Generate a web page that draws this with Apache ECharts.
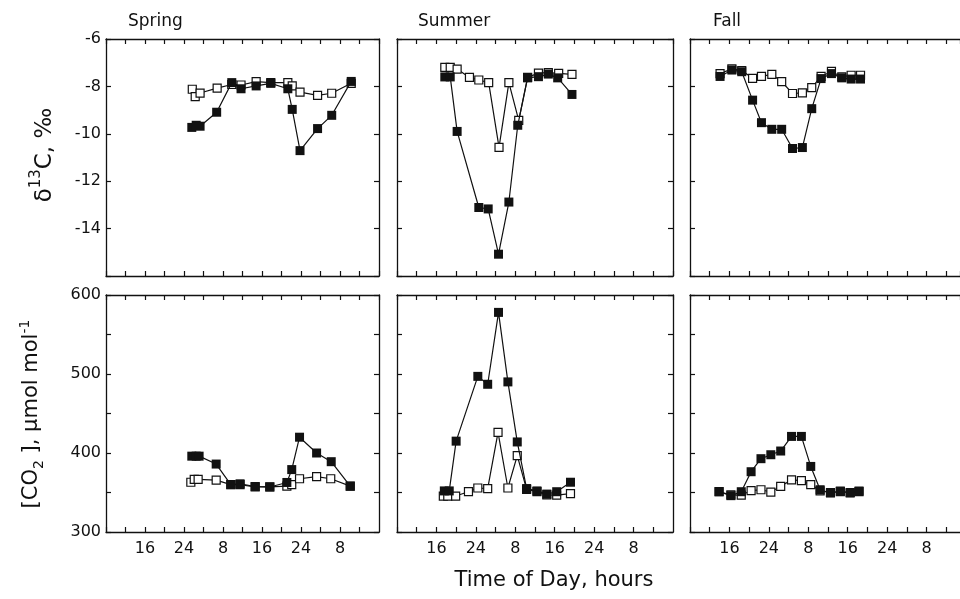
<!DOCTYPE html>
<html>
<head>
<meta charset="utf-8">
<script src="https://cdn.jsdelivr.net/npm/echarts@6/dist/echarts.min.js"></script>
<style>
html,body{margin:0;padding:0;background:#fff;}
#chart{width:960px;height:599px;}
</style>
</head>
<body>
<div id="chart"></div>
<script>
// ---- Data (hours of day on a continuous clock: 24 = midnight, 32 = 8 h next day) ----
const seasons = ["Spring", "Summer", "Fall"];
const xTickHours = [16, 24, 32, 40, 48, 56];
const xTickLabels = ["16", "24", "8", "16", "24", "8"];
const d13cTicks = [-6, -8, -10, -12, -14];
const co2Ticks = [600, 500, 400, 300];

// Spring δ13C
const springD13cHoursFilled = [25.6, 26.5, 27.3, 30.7, 33.8, 35.7, 38.8, 41.8, 45.3, 46.2, 47.8, 51.4, 54.3, 58.3];
const springD13cFilled = [-9.73, -9.64, -9.68, -9.09, -7.84, -8.10, -7.98, -7.87, -8.10, -8.97, -10.71, -9.78, -9.22, -7.79];
const springD13cHoursOpen = [25.7, 26.3, 27.3, 30.8, 33.8, 35.7, 38.8, 41.8, 45.3, 46.2, 47.8, 51.4, 54.3, 58.3];
const springD13cOpen = [-8.12, -8.43, -8.28, -8.07, -7.92, -7.94, -7.80, -7.84, -7.84, -7.98, -8.24, -8.38, -8.29, -7.87];
// Spring CO2
const springCo2HoursFilled = [25.6, 26.5, 27.1, 30.6, 33.6, 35.5, 38.6, 41.6, 45.1, 46.1, 47.7, 51.2, 54.2, 58.1];
const springCo2Filled = [396, 396, 396, 386, 360, 361, 357.6, 357, 362.7, 379, 420, 400, 389, 358];
const springCo2HoursOpen = [25.4, 26.1, 26.9, 30.6, 33.6, 35.5, 38.6, 41.6, 45.1, 46.1, 47.7, 51.2, 54.1, 58.1];
const springCo2Open = [363, 366.5, 366.5, 365.7, 360, 360, 357, 357, 358, 360, 367.4, 370, 367.4, 358];

// Summer δ13C
const summerD13cHoursFilled = [17.7, 18.8, 20.2, 24.6, 26.5, 28.6, 30.7, 32.5, 34.5, 36.7, 38.7, 40.6, 43.5];
const summerD13cFilled = [-7.60, -7.60, -9.90, -13.11, -13.17, -15.08, -12.88, -9.64, -7.64, -7.59, -7.48, -7.64, -8.34];
const summerD13cHoursOpen = [17.7, 18.8, 20.2, 22.7, 24.6, 26.6, 28.7, 30.7, 32.7, 34.5, 36.7, 38.7, 40.8, 43.5];
const summerD13cOpen = [-7.20, -7.20, -7.27, -7.62, -7.73, -7.84, -10.57, -7.84, -9.43, -7.62, -7.44, -7.42, -7.45, -7.49];
// Summer CO2
const summerCo2HoursFilled = [17.6, 18.6, 20.0, 24.4, 26.4, 28.6, 30.5, 32.4, 34.3, 36.4, 38.4, 40.4, 43.2];
const summerCo2Filled = [352, 352, 415, 497, 487, 578, 490, 414, 355, 352, 348, 351, 363];
const summerCo2HoursOpen = [17.4, 18.3, 19.9, 22.5, 24.4, 26.4, 28.5, 30.5, 32.4, 34.3, 36.4, 38.4, 40.4, 43.2];
const summerCo2Open = [345.5, 345.5, 345.5, 351, 355.7, 354.8, 426, 355.7, 396.6, 354, 351, 347, 346.8, 348.5];

// Fall δ13C
const fallD13cHours = [14.1, 16.5, 18.5, 20.7, 22.5, 24.6, 26.6, 28.8, 30.8, 32.7, 34.6, 36.7, 38.8, 40.7, 42.6];
const fallD13cFilled = [-7.58, -7.31, -7.38, -8.58, -9.53, -9.81, -9.81, -10.62, -10.58, -8.94, -7.67, -7.46, -7.64, -7.69, -7.69];
const fallD13cOpen = [-7.46, -7.26, -7.33, -7.66, -7.58, -7.49, -7.80, -8.30, -8.27, -8.05, -7.58, -7.37, -7.60, -7.53, -7.53];
// Fall CO2
const fallCo2Hours = [13.9, 16.3, 18.4, 20.4, 22.4, 24.4, 26.4, 28.6, 30.6, 32.5, 34.4, 36.5, 38.5, 40.5, 42.3];
const fallCo2Filled = [351, 346, 351, 376.3, 392.8, 397.8, 402.5, 421, 421, 383, 353.5, 349.3, 351.9, 349.3, 351.9];
const fallCo2Open = [351, 347, 346.8, 352.3, 353.5, 350.6, 357.8, 366, 365, 360, 352, 350, 351, 350, 351];

// ---- Layout ----
const FONT = '"DejaVu Sans", sans-serif';
const X_MIN = 8, X_MAX = 64;
const colLeft = [106, 397, 690];
const colFullWidth = [273, 276, 276];           // full box width (Fall box runs past the page edge)
const pageWidth = 960;
const rowTop = [39, 295];
const rowHeight = [237, 237];

const panelSeries = [
  [ [springD13cHoursFilled, springD13cFilled, springD13cHoursOpen, springD13cOpen],
    [summerD13cHoursFilled, summerD13cFilled, summerD13cHoursOpen, summerD13cOpen],
    [fallD13cHours, fallD13cFilled, fallD13cHours, fallD13cOpen] ],
  [ [springCo2HoursFilled, springCo2Filled, springCo2HoursOpen, springCo2Open],
    [summerCo2HoursFilled, summerCo2Filled, summerCo2HoursOpen, summerCo2Open],
    [fallCo2Hours, fallCo2Filled, fallCo2Hours, fallCo2Open] ]
];

const grid = [], xAxis = [], yAxis = [], series = [];
const lineCol = '#111';
const axisLine = {show: true, onZero: false, lineStyle: {color: lineCol, width: 1.3}};
const axisTick = {show: true, inside: true, length: 5, lineStyle: {color: lineCol, width: 1.2}};
const labelStyle = {color: '#111', fontFamily: FONT, fontSize: 16};

function xLabel(v) {
  const i = xTickHours.indexOf(v);
  return i >= 0 ? xTickLabels[i] : '';
}

for (let r = 0; r < 2; r++) {
  for (let c = 0; c < 3; c++) {
    const gi = grid.length;
    const fullW = colFullWidth[c];
    const visW = Math.min(fullW, pageWidth - colLeft[c]);
    const clipped = visW < fullW;
    const xMax = X_MIN + (X_MAX - X_MIN) * visW / fullW;
    grid.push({left: colLeft[c], top: rowTop[r], width: visW, height: rowHeight[r], containLabel: false});
    const xBase = {type: 'value', gridIndex: gi, min: X_MIN, max: xMax, interval: 4, axisLine, axisTick, splitLine: {show: false}};
    const xb = xAxis.length;
    xAxis.push(Object.assign({}, xBase, {position: 'bottom',
      axisLabel: {show: r === 1, margin: 9, formatter: xLabel, showMaxLabel: false, ...labelStyle}}));
    xAxis.push(Object.assign({}, xBase, {position: 'top', axisLabel: {show: false}}));
    const yBase = r === 0
      ? {type: 'value', gridIndex: gi, min: -16, max: -6, interval: 2}
      : {type: 'value', gridIndex: gi, min: 300, max: 600, interval: 50};
    const ticks = r === 0 ? d13cTicks : co2Ticks;
    const yb = yAxis.length;
    yAxis.push(Object.assign({}, yBase, {position: 'left', axisLine, axisTick, splitLine: {show: false},
      axisLabel: {show: c === 0, margin: 5, ...labelStyle, formatter: v => ticks.indexOf(v) >= 0 ? String(v) : ''}}));
    yAxis.push(Object.assign({}, yBase, {position: 'right', show: !clipped, axisLine, axisTick, splitLine: {show: false}, axisLabel: {show: false}}));

    const [hF, vF, hO, vO] = panelSeries[r][c];
    series.push({
      type: 'line', xAxisIndex: xb, yAxisIndex: yb, z: 2,
      data: hO.map((h, i) => [h, vO[i]]),
      symbol: 'rect', symbolSize: 8, showAllSymbol: true,
      lineStyle: {color: lineCol, width: 1.2},
      itemStyle: {color: '#fff', borderColor: lineCol, borderWidth: 1.2},
      emphasis: {disabled: true}
    });
    series.push({
      type: 'line', xAxisIndex: xb, yAxisIndex: yb, z: 3,
      data: hF.map((h, i) => [h, vF[i]]),
      symbol: 'rect', symbolSize: 9, showAllSymbol: true,
      lineStyle: {color: lineCol, width: 1.2},
      itemStyle: {color: lineCol, borderColor: lineCol, borderWidth: 0},
      emphasis: {disabled: true}
    });
  }
}

const titleX = [128, 418, 713];
const graphic = seasons.map((s, i) => ({
  type: 'text', x: titleX[i], y: 22,
  style: {text: s, fontFamily: FONT, fontSize: 17, fill: '#111', align: 'left', verticalAlign: 'middle'}
}));
graphic.push({
  type: 'text', x: 554, y: 581,
  style: {text: 'Time of Day, hours', fontFamily: FONT, fontSize: 21, fill: '#111', align: 'center', verticalAlign: 'middle'}
});
graphic.push({
  type: 'text', x: 43, y: 155, rotation: Math.PI / 2,
  style: {
    text: '{n|δ}{sup|13}{n|C, ‰}',
    align: 'center', verticalAlign: 'middle', fill: '#111',
    rich: {
      n: {fontFamily: FONT, fontSize: 23, lineHeight: 28, verticalAlign: 'bottom', fill: '#111'},
      sup: {fontFamily: FONT, fontSize: 15, lineHeight: 15, verticalAlign: 'top', fill: '#111'}
    }
  }
});
graphic.push({
  type: 'text', x: 32, y: 414, rotation: Math.PI / 2,
  style: {
    text: '{n|[CO}{sub|2}{n| ], μmol mol}{sup|-1}',
    align: 'center', verticalAlign: 'middle', fill: '#111',
    rich: {
      n: {fontFamily: FONT, fontSize: 21, lineHeight: 28, verticalAlign: 'middle', fill: '#111'},
      sub: {fontFamily: FONT, fontSize: 14, lineHeight: 14, verticalAlign: 'bottom', fill: '#111'},
      sup: {fontFamily: FONT, fontSize: 14, lineHeight: 14, verticalAlign: 'top', fill: '#111'}
    }
  }
});

const chart = echarts.init(document.getElementById('chart'), null, {renderer: 'canvas'});
chart.setOption({
  animation: false,
  backgroundColor: '#fff',
  grid, xAxis, yAxis, series, graphic
});
</script>
</body>
</html>
